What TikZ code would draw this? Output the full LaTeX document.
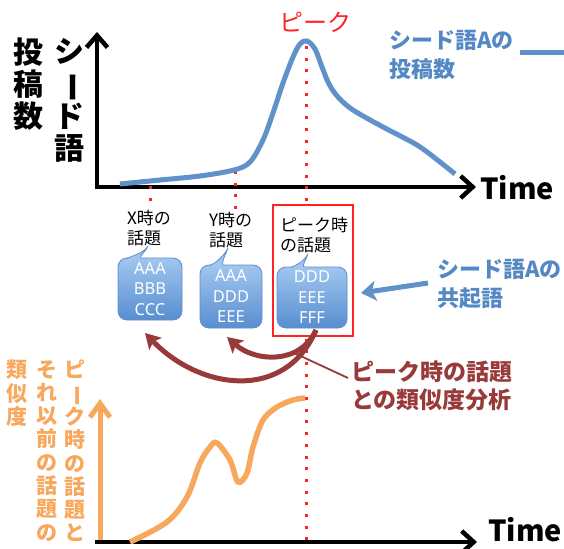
\documentclass[tikz,border=0pt]{standalone}
\usepackage{fontspec}
\setmainfont{Noto Sans CJK JP}
\newfontfamily\lat{Noto Sans}
\usetikzlibrary{arrows.meta}
\definecolor{cblue}{RGB}{96,146,201}
\definecolor{ctxtblue}{RGB}{84,136,196}
\definecolor{corange}{RGB}{248,168,92}
\definecolor{cdred}{RGB}{153,58,58}
\definecolor{cred}{RGB}{255,35,35}
\definecolor{cbtop}{RGB}{160,198,240}
\definecolor{cbbot}{RGB}{88,142,208}
\definecolor{cbedge}{RGB}{98,140,196}
\newcommand\tatebar{\rotatebox[origin=c]{-90}{ー}}
\newcommand\bubtail[5]{%
  \fill[cbtop] (#1,#3+1.2) .. controls (#1+8,#3-3) and (#4-3,#5+6) .. (#4,#5) .. controls (#4-2,#5+6) and (#2-2,#3-3) .. (#2,#3+1.2) -- cycle;
  \draw[cbedge,line width=0.8pt] (#1,#3+0.4) .. controls (#1+8,#3-3) and (#4-3,#5+6) .. (#4,#5) .. controls (#4-2,#5+6) and (#2-2,#3-3) .. (#2,#3+0.4);}
\begin{document}
\begin{tikzpicture}[x=1pt,y=-1pt,
  axis/.style={line width=4.5pt, line join=miter},
  dots/.style={cred, line width=3pt, dash pattern=on 3pt off 8.7pt},
  ylab/.style={font=\bfseries\fontsize{30}{32}\selectfont, align=center, inner sep=0pt},
  olab/.style={text=corange, font=\bfseries\fontsize{21}{23.3}\selectfont, align=center, inner sep=0pt},
  legend/.style={text=ctxtblue, font=\bfseries\fontsize{22}{22}\selectfont, inner sep=0pt, anchor=base west},
  simlab/.style={text=cdred, font=\bfseries\fontsize{23}{23}\selectfont, inner sep=0pt, anchor=base west},
  lbl/.style={font=\fontsize{17}{20}\selectfont, align=left, inner sep=0pt, anchor=north west},
  bubble/.style={rounded corners=9pt, top color=cbtop, bottom color=cbbot, draw=cbedge, line width=0.8pt, text=white, align=center, font=\lat\fontsize{16.5}{20.5}\selectfont, inner sep=0pt},
  timelbl/.style={font=\bfseries\fontsize{29}{29}\selectfont, inner sep=0pt},
  redarr/.style={cdred, line width=5pt, -{Stealth[length=15pt,width=17pt,inset=3pt]}},
]
\useasboundingbox (0,0) rectangle (564,548);
\fill[white] (0,0) rectangle (564,548);

% ---------- top chart ----------
\draw[axis, {Straight Barb[length=12pt,width=21pt]}-{Straight Barb[length=12pt,width=22pt]}] (97,32) -- (97,187) -- (476,187);
\node[timelbl] (t1) at (517,188) {Time};
\node[ylab, anchor=north] (ylab1) at (69,38) {シ\\\tatebar\\ド\\語};
\node[ylab, anchor=north] (ylab2) at (28,38) {投\\稿\\数};

\draw[dots] (150,186) -- (150,202);
\draw[dots] (235,171) -- (235,212);
\draw[dots] (306,46) -- (306,546);

\draw[cblue, line width=5pt] plot[smooth, tension=0.55] coordinates {
 (120,184) (160,180) (200,176) (234,170) (250,162) (263,140) (273,113) (283,83) (293,57) (300,44) (307,41) (315,49) (322,67) (329,84) (338,97) (353,110) (383,127) (417,145) (440,162) (455,174)};
\node[text=cred, font=\fontsize{24}{24}\selectfont, inner sep=0pt] (peaklbl) at (315,22) {ピーク};

\node[legend] (leg1) at (389,49) {シード語Aの};
\node[legend] (leg2) at (389,78) {投稿数};
\coordinate (lg1) at (520,53);
\coordinate (lg2) at (564,53);
\draw[cblue, line width=5pt] (lg1) -- (lg2);

% ---------- topics ----------
\node[draw=cred, line width=2pt, fill=white, minimum width=80pt, minimum height=131pt, inner sep=0pt] (pbox) at (313,270.5) {};
\node[lbl] (lx) at (127,210) {X時の\\話題};
\node[lbl] (ly) at (209,212) {Y時の\\話題};
\node[lbl] (lp) at (280,217) {ピーク時\\の話題};

\node[bubble, minimum width=64pt, minimum height=62pt] (b1) at (150,289) {AAA\\BBB\\CCC};
\node[bubble, minimum width=62pt, minimum height=63pt] (b2) at (231,296.5) {AAA\\DDD\\EEE};
\node[bubble, minimum width=70pt, minimum height=61pt] (b3) at (312,297.5) {DDD\\EEE\\FFF};
\bubtail{127}{141}{258}{148}{246}
\bubtail{210}{223}{265}{228}{248}
\bubtail{291}{304}{267}{308}{254}

\node[legend] (cooc1) at (437,277) {シード語Aの};
\node[legend] (cooc2) at (437,306) {共起語};
\coordinate (ca) at (428,283);
\coordinate (cb) at (361,293);
\draw[cblue, line width=5pt, -{Stealth[length=15pt,width=20pt,inset=4pt]}] (ca) -- (cb);

% ---------- similarity arrows ----------
\coordinate (rs) at (316,330);
\coordinate (rx) at (145,333);
\coordinate (ry) at (227,337);
\draw[redarr] (rs) .. controls (285,402) and (200,390) .. (rx);
\draw[redarr] (rs) .. controls (300,365) and (255,362) .. (ry);
\node[simlab] (sim1) at (351,380) {ピーク時の話題};
\node[simlab] (sim2) at (351,408) {との類似度分析};
\coordinate (tl1) at (292,352);
\coordinate (tl2) at (348,378);
\draw[cdred, line width=1.8pt] (tl1) -- (tl2);

% ---------- bottom chart ----------
\draw[corange, line width=5pt, -{Straight Barb[length=14pt,width=20pt]}] (100,541) -- (100,399);
\draw[line width=4.5pt, -{Straight Barb[length=12pt,width=22pt]}] (95,542) -- (477,542);
\node[timelbl] (t2) at (525,530) {Time};
\draw[corange, line width=5.5pt] plot[smooth, tension=0.55] coordinates {
 (130,542) (167,522) (187,497) (200,463) (210,447) (217,443) (230,460) (238,482) (247,473) (253,447) (263,420) (277,407) (293,400) (305,398)};
\node[olab, anchor=north] (o1) at (75,360) {ピ\\\tatebar\\ク\\時\\の\\話\\題\\と};
\node[olab, anchor=north] (o2) at (47,360) {そ\\れ\\以\\前\\の\\話\\題\\の};
\node[olab, anchor=north] (o3) at (17,360) {類\\似\\度};
\end{tikzpicture}
\end{document}
